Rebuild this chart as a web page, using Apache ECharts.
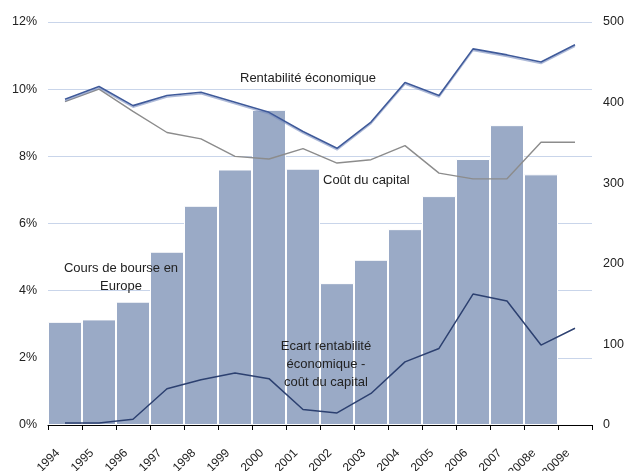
<!DOCTYPE html>
<html>
<head>
<meta charset="utf-8">
<script src="https://cdn.jsdelivr.net/npm/echarts@6/dist/echarts.min.js"></script>
<style>
html,body{margin:0;padding:0;background:#fff;}
#c{width:627px;height:471px;}
</style>
</head>
<body>
<div id="c"></div>
<script>
const categories = ['1994','1995','1996','1997','1998','1999','2000','2001','2002','2003','2004','2005','2006','2007','2008e','2009e'];
const leftTicks = [0, 2, 4, 6, 8, 10, 12];
const rightTicks = [0, 100, 200, 300, 400, 500];
// Cours de bourse en Europe (right axis)
const cours = [128, 131, 153, 215, 272, 317, 391, 318, 176, 205, 243, 284, 330, 372, 311, null];
// Rentabilité économique (%)
const rentabilite = [9.70, 10.08, 9.51, 9.81, 9.91, 9.61, 9.31, 8.74, 8.24, 9.02, 10.2, 9.81, 11.2, 11.02, 10.81, 11.32];
// Coût du capital (%)
const coutCapital = [9.63, 10.0, 9.34, 8.71, 8.52, 8.0, 7.92, 8.23, 7.8, 7.9, 8.32, 7.5, 7.33, 7.33, 8.42, 8.42];
// Ecart rentabilité économique - coût du capital (%)
const ecart = [0.06, 0.06, 0.17, 1.08, 1.35, 1.55, 1.38, 0.46, 0.36, 0.94, 1.88, 2.28, 3.9, 3.69, 2.38, 2.88];

const font = 'Liberation Sans, Arial, sans-serif';
const chart = echarts.init(document.getElementById('c'), null, {renderer: 'canvas'});
chart.setOption({
  animation: false,
  backgroundColor: '#fff',
  textStyle: {fontFamily: font},
  grid: {left: 48, right: 35, top: 22, bottom: 46, containLabel: false, outerBoundsMode: 'none'},
  xAxis: {
    type: 'category',
    data: categories,
    boundaryGap: true,
    axisLine: {show: true, lineStyle: {color: '#000', width: 1}},
    axisTick: {show: true, length: 5, lineStyle: {color: '#000'}},
    axisLabel: {rotate: 45, fontSize: 12, color: '#222', margin: 19, padding: [0, 10, 0, 0], interval: 0, fontFamily: font},
    splitLine: {show: false}
  },
  yAxis: [{
    type: 'value', min: leftTicks[0], max: leftTicks[leftTicks.length-1], interval: 2,
    axisLine: {show: false}, axisTick: {show: false},
    axisLabel: {formatter: '{value}%', fontSize: 12.5, color: '#222', margin: 11, fontFamily: font},
    splitLine: {show: true, lineStyle: {color: '#c9d5ea', width: 1}}
  }, {
    type: 'value', min: rightTicks[0], max: rightTicks[rightTicks.length-1], interval: 100,
    position: 'right',
    axisLine: {show: false}, axisTick: {show: false},
    axisLabel: {fontSize: 12.5, color: '#222', margin: 11, fontFamily: font},
    splitLine: {show: false}
  }],
  series: [{
    name: 'Cours de bourse en Europe',
    type: 'bar', yAxisIndex: 1, data: cours,
    barCategoryGap: '0%',
    itemStyle: {color: '#9aaac6', borderColor: '#ffffff', borderWidth: 1},
    z: 2
  }, {
    name: 'Rentabilité économique',
    type: 'line', yAxisIndex: 0, data: rentabilite,
    symbol: 'none', smooth: false,
    lineStyle: {color: '#3f5a9a', width: 1.6, shadowColor: 'rgba(120,140,190,0.6)', shadowBlur: 0, shadowOffsetY: 1.5},
    z: 5
  }, {
    name: 'Coût du capital',
    type: 'line', yAxisIndex: 0, data: coutCapital,
    symbol: 'none',
    lineStyle: {color: '#8c8c8c', width: 1.4},
    z: 4
  }, {
    name: 'Ecart',
    type: 'line', yAxisIndex: 0, data: ecart,
    symbol: 'none',
    lineStyle: {color: '#2c4070', width: 1.5},
    z: 4
  }],
  graphic: [
    {type: 'text', z: 100, x: 240, y: 78, style: {text: 'Rentabilité économique', font: '13px ' + font, fill: '#222', verticalAlign: 'middle'}},
    {type: 'text', z: 100, x: 323, y: 180, style: {text: 'Coût du capital', font: '13px ' + font, fill: '#222', verticalAlign: 'middle'}},
    {type: 'text', z: 100, x: 121, y: 277, style: {text: 'Cours de bourse en\nEurope', font: '13px ' + font, fill: '#222', align: 'center', verticalAlign: 'middle', lineHeight: 18}},
    {type: 'text', z: 100, x: 326, y: 364, style: {text: 'Ecart rentabilité\néconomique -\ncoût du capital', font: '13px ' + font, fill: '#222', align: 'center', verticalAlign: 'middle', lineHeight: 18}}
  ]
});
</script>
</body>
</html>
